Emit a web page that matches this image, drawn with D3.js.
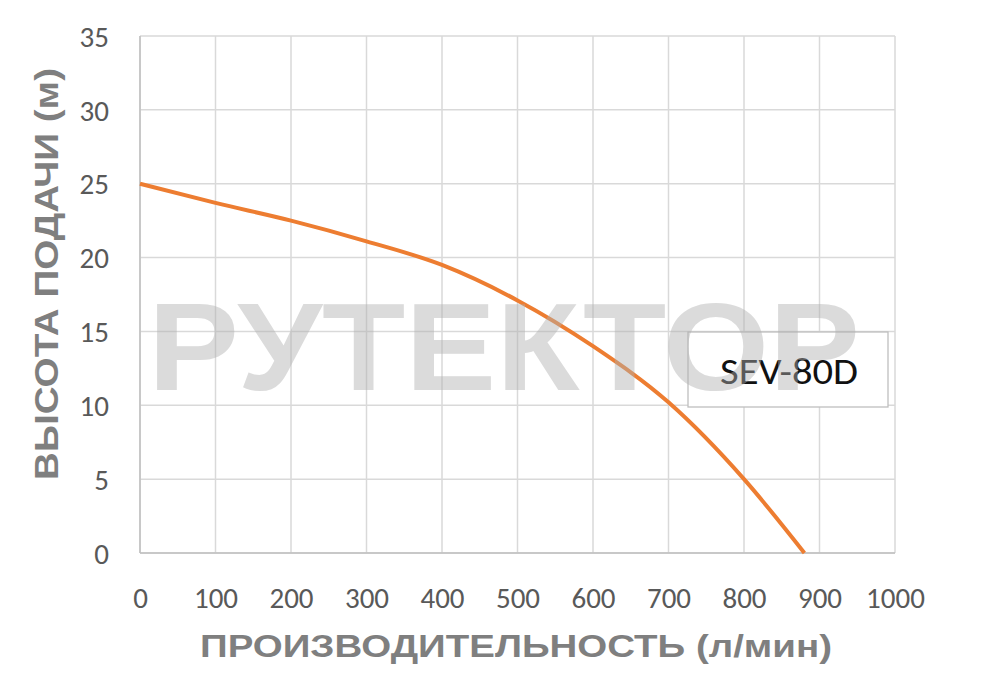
<!DOCTYPE html>
<html><head><meta charset="utf-8">
<script src="https://cdn.jsdelivr.net/npm/d3@7"></script>
<style>body{margin:0;background:#fff}svg{display:block}</style>
</head><body>
<svg id="c" width="1000" height="684"></svg>
<script>
const flow = [0, 100, 200, 300, 400, 500, 600, 700, 800, 880];
const head = [25, 23.7, 22.5, 21.1, 19.5, 17.1, 14.0, 10.2, 5.0, 0];
const xTicks = [0,100,200,300,400,500,600,700,800,900,1000];
const yTicks = [0,5,10,15,20,25,30,35];
const seriesName = "SEV-80D";
const xTitle = "ПРОИЗВОДИТЕЛЬНОСТЬ (л/мин)";
const yTitle = "ВЫСОТА ПОДАЧИ (м)";
const watermark = "РУТЕКТОР";

const svg = d3.select("#c");
const L = 140, R = 895, T = 36, B = 553;
const x = d3.scaleLinear().domain([0,1000]).range([L,R]);
const y = d3.scaleLinear().domain([0,35]).range([B,T]);
const tickFont = "Carlito, 'Liberation Sans Narrow', 'DejaVu Sans Condensed', sans-serif";

// grid
const g = svg.append("g");
g.selectAll(".vx").data(xTicks).join("line")
  .attr("x1", d=>x(d)).attr("x2", d=>x(d)).attr("y1", T).attr("y2", B)
  .attr("stroke", "#d9d9d9").attr("stroke-width", 1.5);
g.selectAll(".hy").data(yTicks).join("line")
  .attr("x1", L).attr("x2", R).attr("y1", d=>y(d)).attr("y2", d=>y(d))
  .attr("stroke", "#d9d9d9").attr("stroke-width", 1.5);
g.append("line").attr("x1", L).attr("x2", L).attr("y1", T).attr("y2", B)
  .attr("stroke", "#bfbfbf").attr("stroke-width", 1.5);
g.append("line").attr("x1", L).attr("x2", R).attr("y1", B).attr("y2", B)
  .attr("stroke", "#bfbfbf").attr("stroke-width", 1.5);

// axes
const xAxis = svg.append("g").attr("transform", `translate(0,${B})`)
  .call(d3.axisBottom(x).tickValues(xTicks).tickFormat(d3.format("d")).tickSize(0).tickPadding(34));
const yAxis = svg.append("g").attr("transform", `translate(${L},0)`)
  .call(d3.axisLeft(y).tickValues(yTicks).tickFormat(d3.format("d")).tickSize(0).tickPadding(31));
[xAxis, yAxis].forEach(a => {
  a.select(".domain").remove();
  a.selectAll("text").attr("font-family", tickFont).attr("font-size", 29).attr("fill", "#595959");
});
yAxis.selectAll("text").attr("dy", "0.35em");

// curve
const line = d3.line().x((d,i)=>x(flow[i])).y(d=>y(d)).curve(d3.curveMonotoneX);
svg.append("path").datum(head).attr("d", line)
  .attr("fill", "none").attr("stroke", "#ed7d31").attr("stroke-width", 4);

// legend
svg.append("rect").attr("x", 688).attr("y", 332).attr("width", 200).attr("height", 75)
  .attr("fill", "#fff").attr("stroke", "#bfbfbf").attr("stroke-width", 1.3);
svg.append("text").attr("x", 789).attr("y", 384).attr("text-anchor", "middle")
  .attr("textLength", 138).attr("lengthAdjust", "spacingAndGlyphs")
  .attr("font-family", tickFont).attr("font-size", 37).attr("fill", "#111")
  .text(seriesName);

// watermark (semi-transparent, over everything)
svg.append("text").attr("x", 148).attr("y", 390)
  .attr("textLength", 712).attr("lengthAdjust", "spacingAndGlyphs")
  .attr("font-family", "'Liberation Sans', Arial, sans-serif").attr("font-weight", "bold")
  .attr("font-size", 124).attr("fill", "#b0b0b0").attr("opacity", 0.45)
  .text(watermark);

// titles
svg.append("text").attr("x", 516).attr("y", 657).attr("text-anchor", "middle")
  .attr("textLength", 632).attr("lengthAdjust", "spacingAndGlyphs")
  .attr("font-family", "'Liberation Sans', Arial, sans-serif").attr("font-weight", "bold")
  .attr("font-size", 32).attr("fill", "#7f7f7f").text(xTitle);
svg.append("text").attr("transform", "translate(58,274) rotate(-90)").attr("text-anchor", "middle")
  .attr("textLength", 412).attr("lengthAdjust", "spacingAndGlyphs")
  .attr("font-family", "'Liberation Sans', Arial, sans-serif").attr("font-weight", "bold")
  .attr("font-size", 33).attr("fill", "#7f7f7f").text(yTitle);
</script>
</body></html>
